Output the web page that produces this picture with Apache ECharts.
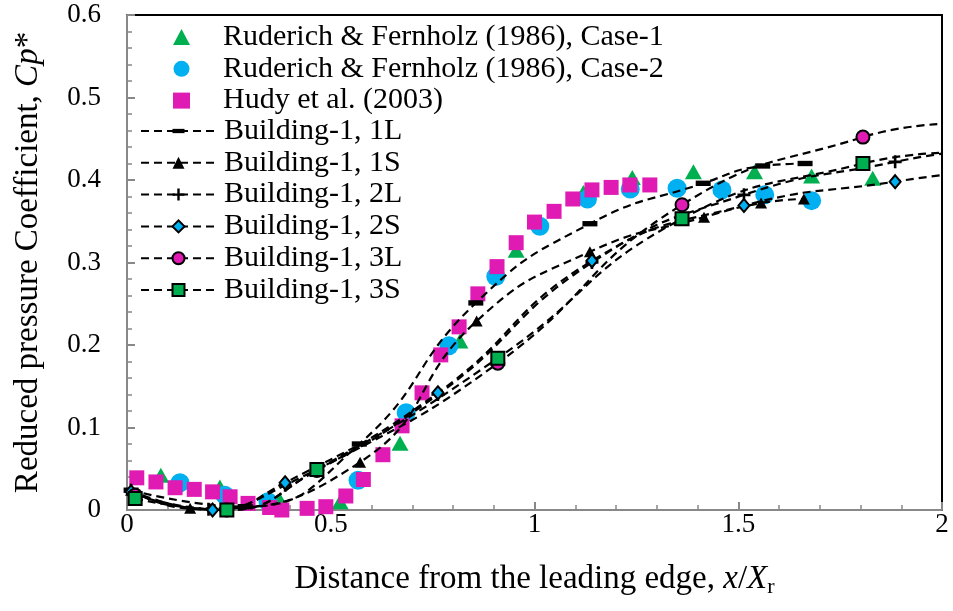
<!DOCTYPE html>
<html><head><meta charset="utf-8">
<script src="https://cdn.jsdelivr.net/npm/echarts@6/dist/echarts.min.js"></script>
<style>html,body{margin:0;padding:0;background:#fff}#c{width:953px;height:611px}</style>
</head><body><div id="c"></div>
<script>
// ---- data ----
const xMin = 0, xMax = 2, xStep = 0.5;
const yMin = 0, yMax = 0.6, yStep = 0.1;

const rfCase1 = [[0.083,0.042],[0.228,0.028],[0.375,0.012],[0.523,0.010],[0.67,0.081],[0.817,0.205],[0.955,0.315],[1.12,0.385],[1.24,0.403],[1.39,0.41],[1.54,0.41],[1.68,0.405],[1.83,0.402]];
const rfCase2 = [[0.13,0.033],[0.24,0.018],[0.346,0.010],[0.567,0.036],[0.685,0.118],[0.79,0.199],[0.905,0.283],[1.013,0.344],[1.13,0.377],[1.235,0.389],[1.35,0.39],[1.46,0.388],[1.565,0.382],[1.68,0.375]];
const hudy = [[0.024,0.039],[0.071,0.034],[0.118,0.027],[0.165,0.025],[0.21,0.022],[0.253,0.016],[0.297,0.008],[0.35,0.003],[0.38,0.0],[0.442,0.002],[0.488,0.004],[0.537,0.017],[0.58,0.037],[0.628,0.067],[0.675,0.102],[0.724,0.142],[0.77,0.188],[0.815,0.222],[0.861,0.262],[0.908,0.295],[0.955,0.324],[1.0,0.349],[1.048,0.362],[1.094,0.377],[1.141,0.388],[1.188,0.391],[1.234,0.394],[1.283,0.394]];

const b1L = [[0.01,0.024],[0.29,0.004],[0.57,0.08],[0.856,0.251],[1.136,0.347],[1.414,0.396],[1.56,0.417],[1.664,0.42]];
const b1S = [[0.01,0.024],[0.155,0.002],[0.572,0.058],[0.858,0.229],[1.136,0.313],[1.416,0.355],[1.556,0.372],[1.661,0.377]];
const b2L = [[0.01,0.024],[0.2,0.001],[0.388,0.03],[0.763,0.14],[1.141,0.30],[1.514,0.382],[1.885,0.422]];
const b2S = [[0.01,0.022],[0.21,0.0],[0.388,0.033],[0.763,0.142],[1.141,0.302],[1.514,0.369],[1.885,0.398]];
const b3L = [[0.02,0.018],[0.245,0.0],[0.466,0.048],[0.91,0.178],[1.362,0.37],[1.806,0.452]];
const b3S = [[0.02,0.014],[0.245,0.0],[0.466,0.049],[0.91,0.184],[1.362,0.353],[1.806,0.42]];
// curve ends at the right border (x = 2)
const b2LEnd = [2,0.432], b2SEnd = [2,0.406], b3LEnd = [2,0.468], b3SEnd = [2,0.433];

const names = ['Ruderich & Fernholz (1986), Case-1','Ruderich & Fernholz (1986), Case-2','Hudy et al. (2003)',
  'Building-1, 1L','Building-1, 1S','Building-1, 2L','Building-1, 2S','Building-1, 3L','Building-1, 3S'];

// ---- chart ----
const plus = 'path://M4,0H6V4H10V6H6V10H4V6H0V4H4Z';
const dash = 'path://M0,0M0,4.5H14V9.5H0ZM14,14';
function withEnd(pts, end){
  const d = pts.map(p => ({value:p}));
  if (end) d.push({value:end, symbol:'none'});
  return d;
}
function bSeries(name, pts, end, symbol, size, fill, border){
  return {
    name, type:'line', data: withEnd(pts, end), smooth:0.5,
    symbol, symbolSize:size, showSymbol:true, symbolKeepAspect:true,
    lineStyle:{color:'#000', width:2.2, type:[8,5]},
    itemStyle:{color:fill, borderColor:border||fill, borderWidth: border?2:0, opacity:1},
    z:5
  };
}
const serif = 'Liberation Serif';
const chart = echarts.init(document.getElementById('c'));
chart.setOption({
  animation:false,
  backgroundColor:'#fff',
  textStyle:{fontFamily:serif},
  grid:{left:127, right:11, top:15, bottom:101, show:true, borderColor:'#000', borderWidth:2, backgroundColor:'transparent'},
  legend:[{
    orient:'vertical', left:173, top:22, padding:0, itemWidth:17, itemHeight:16, itemGap:1.8,
    textStyle:{fontFamily:serif, fontSize:30, color:'#000', lineHeight:30, padding:[0,0,0,28]},
    data: names.slice(0,3)
  },{
    orient:'vertical', left:140, top:116, padding:0, itemWidth:75, itemHeight:15, itemGap:1.8,
    textStyle:{fontFamily:serif, fontSize:30, color:'#000', lineHeight:30, padding:[0,0,0,3]},
    data: names.slice(3)
  }],
  xAxis:{
    type:'value', min:xMin, max:xMax, interval:xStep,
    axisLine:{lineStyle:{color:'#888', width:2}},
    axisTick:{inside:true, length:8, lineStyle:{color:'#888', width:2}},
    minorTick:{show:true, splitNumber:5, length:5, lineStyle:{color:'#888', width:1.5}},
    splitLine:{show:false},
    axisLabel:{color:'#000', fontSize:27, fontFamily:serif, margin:1},
    name:'{a|Distance from the leading edge, }{i|x}{a|/}{i|X}{s|r}',
    nameLocation:'middle', nameGap:50,
    nameTextStyle:{rich:{
      a:{fontFamily:serif, fontSize:33, color:'#000'},
      i:{fontFamily:serif, fontSize:33, fontStyle:'italic', color:'#000'},
      s:{fontFamily:serif, fontSize:22, color:'#000', padding:[16,0,0,0]}
    }}
  },
  yAxis:{
    type:'value', min:yMin, max:yMax, interval:yStep,
    axisLine:{lineStyle:{color:'#888', width:2}},
    axisTick:{inside:true, length:8, lineStyle:{color:'#888', width:2}},
    minorTick:{show:true, splitNumber:5, length:5, lineStyle:{color:'#888', width:1.5}},
    splitLine:{show:false},
    axisLabel:{color:'#000', fontSize:27, fontFamily:serif, margin:26},
    name:'{a|Reduced pressure Coefficient, }{i|Cp}{a|*}',
    nameLocation:'middle', nameGap:82, nameRotate:90,
    nameTextStyle:{rich:{
      a:{fontFamily:serif, fontSize:33, color:'#000'},
      i:{fontFamily:serif, fontSize:33, fontStyle:'italic', color:'#000'}
    }}
  },
  series:[
    {name:names[0], type:'scatter', data:rfCase1, symbol:'triangle', symbolSize:[17,15], itemStyle:{color:'#00B050', opacity:1}, z:2},
    {name:names[1], type:'scatter', data:rfCase2, symbol:'circle', symbolSize:19, itemStyle:{color:'#00B0F0', opacity:1}, z:2},
    {name:names[2], type:'scatter', data:hudy, symbol:'rect', symbolSize:15, itemStyle:{color:'#E01BB4', opacity:1}, z:2},
    bSeries(names[3], b1L, null, dash, 15, '#000'),
    bSeries(names[4], b1S, null, 'triangle', [12,11], '#000'),
    bSeries(names[5], b2L, b2LEnd, plus, 13, '#000'),
    bSeries(names[6], b2S, b2SEnd, 'diamond', [11,13], '#00B0F0', '#000'),
    bSeries(names[7], b3L, b3LEnd, 'circle', 13, '#E01BB4', '#000'),
    bSeries(names[8], b3S, b3SEnd, 'rect', 13, '#00B050', '#000')
  ]
});
</script></body></html>
